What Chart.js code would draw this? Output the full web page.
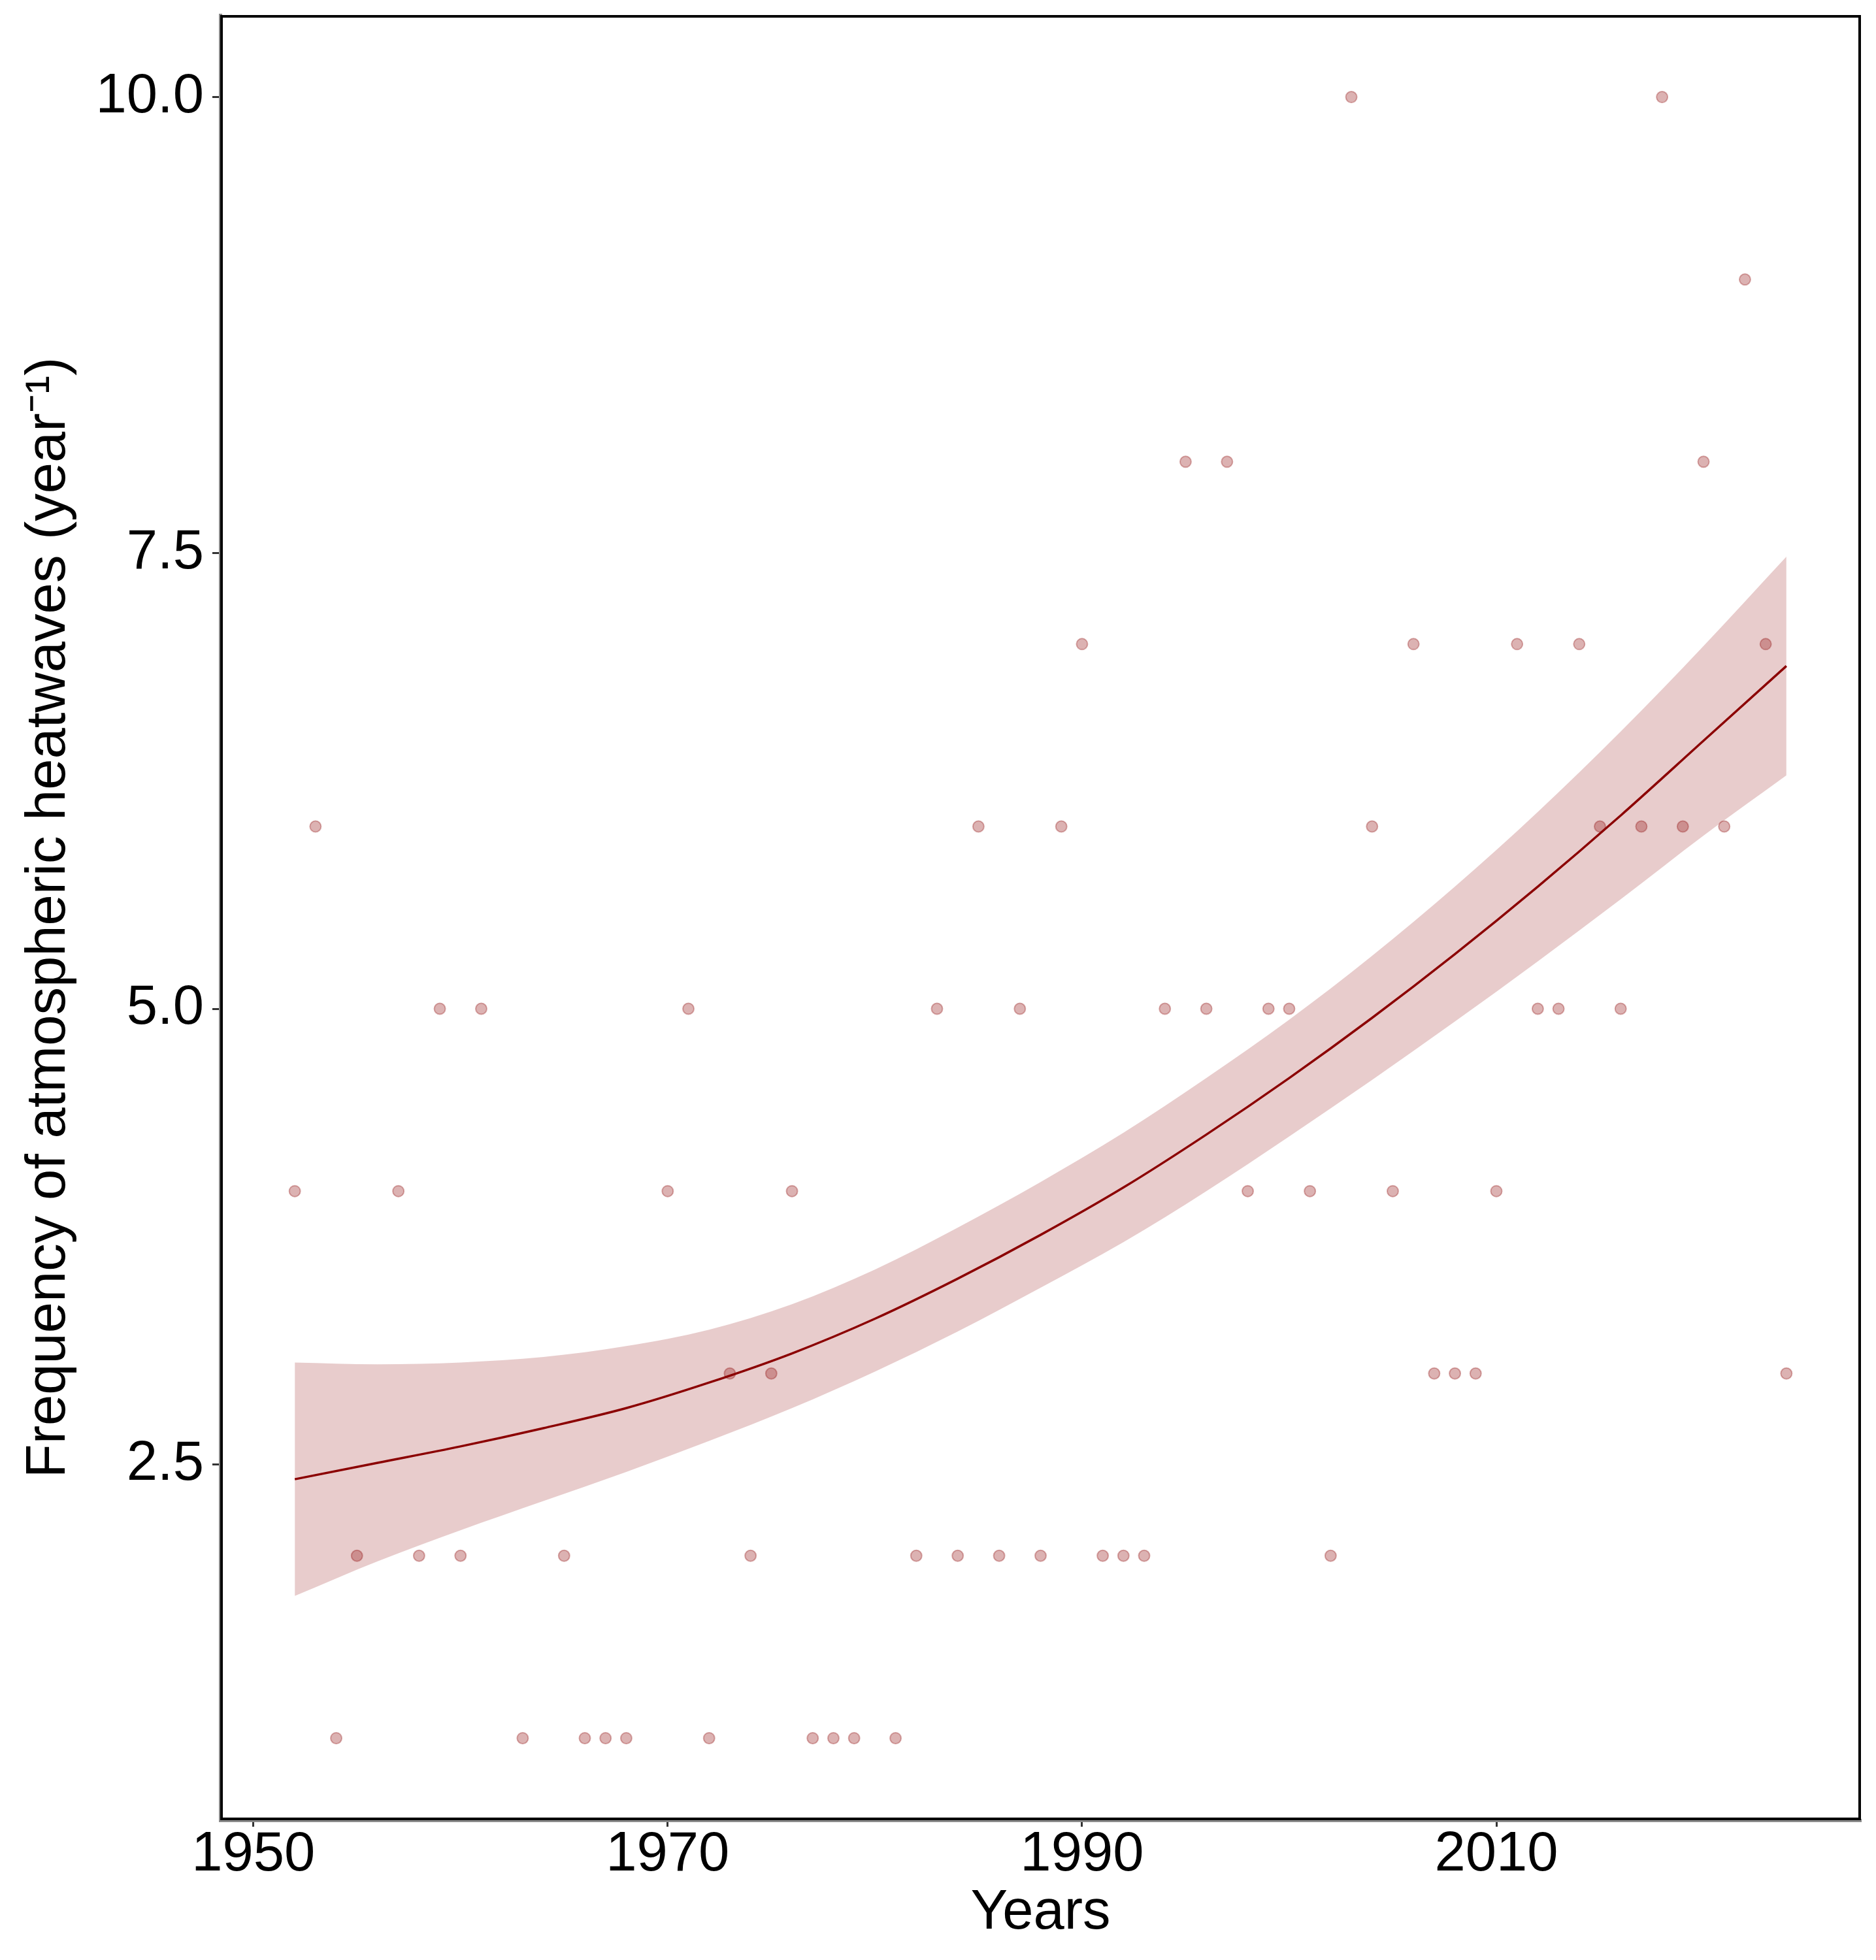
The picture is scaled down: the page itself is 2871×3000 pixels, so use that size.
<!DOCTYPE html>
<html>
<head>
<meta charset="utf-8">
<script src="https://cdn.jsdelivr.net/npm/chart.js@4.4.1/dist/chart.umd.min.js"></script>
<style>
    html, body { margin: 0; padding: 0; background: #fff; }
    canvas { display: block; }
</style>
</head>
<body>
<canvas id="heatwave-chart" width="2871" height="3000"></canvas>
<script>
// observed counts per year
let years = [1952, 1953, 1954, 1955, 1957, 1958, 1959, 1960, 1961, 1963, 1965, 1966, 1967, 1968,
             1970, 1971, 1972, 1973, 1974, 1975, 1976, 1977, 1978, 1979, 1981, 1982, 1983, 1984,
             1985, 1986, 1987, 1988, 1989, 1990, 1991, 1992, 1993, 1994, 1995, 1996, 1997, 1998,
             1999, 2000, 2001, 2002, 2003, 2004, 2005, 2006, 2007, 2008, 2009, 2010, 2011, 2012,
             2013, 2014, 2015, 2016, 2017, 2018, 2019, 2020, 2021, 2022, 2023, 2024];
let heatwaves = [4, 6, 1, 2, 4, 2, 5, 2, 5, 1, 2, 1, 1, 1,
                 4, 5, 1, 3, 2, 3, 4, 1, 1, 1, 1, 2, 5, 2,
                 6, 2, 5, 2, 6, 7, 2, 2, 2, 5, 8, 5, 8, 4,
                 5, 5, 4, 2, 10, 6, 4, 7, 3, 3, 3, 4, 7, 5,
                 5, 7, 6, 5, 6, 10, 6, 8, 6, 9, 7, 3];

// smoothed trend and its confidence band
let fitYears = [1952, 1956, 1960, 1964, 1968, 1972, 1976, 1980, 1984, 1988,
                1992, 1996, 2000, 2004, 2008, 2012, 2016, 2020, 2024];
let fitValues = [2.42, 2.51, 2.60, 2.70, 2.81, 2.95, 3.11, 3.30, 3.52, 3.76,
                 4.02, 4.31, 4.62, 4.95, 5.30, 5.67, 6.06, 6.47, 6.88];
let fitUpper = [3.06, 3.05, 3.06, 3.09, 3.15, 3.24, 3.38, 3.57, 3.80, 4.05,
                4.32, 4.62, 4.94, 5.29, 5.67, 6.08, 6.52, 6.99, 7.48];
let fitLower = [1.78, 1.97, 2.14, 2.30, 2.46, 2.63, 2.81, 3.01, 3.23, 3.47,
                3.72, 4.00, 4.30, 4.61, 4.93, 5.26, 5.60, 5.95, 6.28];

let xTicks = [1950, 1970, 1990, 2010];
let yTicks = [2.5, 5.0, 7.5, 10.0];

let fontFamily = "'Liberation Sans', Arial, Helvetica, sans-serif";

let colors = {
    line: "#8b0000",
    band: "rgba(139, 0, 0, 0.2)",
    points: "rgba(139, 0, 0, 0.3)",
    axis: "#8a8a8a",
    tick: "#333333"
}

let pairs = (xs, ys) => xs.map((x, i) => ({x: x, y: ys[i]}));

// black panel border like theme_bw
let panelFrame = {
    id: 'panelFrame',
    afterDraw(chart) {
        let ctx = chart.ctx;
        let a = chart.chartArea;
        ctx.save();
        ctx.strokeStyle = '#000';
        ctx.lineWidth = 4;
        ctx.strokeRect(a.left + 2, a.top + 2, a.right - a.left - 4, a.bottom - a.top - 4);
        ctx.restore();
    }
}

let data = {
    datasets: [
        {
            type: 'line',
            label: 'Trend',
            data: pairs(fitYears, fitValues),
            borderColor: colors.line,
            borderWidth: 3.5,
            pointRadius: 0,
            fill: false,
            cubicInterpolationMode: 'monotone',
            order: 0
        },
        {
            type: 'line',
            label: 'Upper',
            data: pairs(fitYears, fitUpper),
            borderColor: 'rgba(0,0,0,0)',
            borderWidth: 0,
            pointRadius: 0,
            backgroundColor: colors.band,
            fill: '+1',
            cubicInterpolationMode: 'monotone',
            order: 1
        },
        {
            type: 'line',
            label: 'Lower',
            data: pairs(fitYears, fitLower),
            borderColor: 'rgba(0,0,0,0)',
            borderWidth: 0,
            pointRadius: 0,
            fill: false,
            cubicInterpolationMode: 'monotone',
            order: 1
        },
        {
            type: 'scatter',
            label: 'Heatwaves',
            data: pairs(years, heatwaves),
            backgroundColor: colors.points,
            borderColor: colors.points,
            borderWidth: 2,
            pointRadius: 8.5,
            order: 2
        }
    ]
}

let options = {
    responsive: false,
    devicePixelRatio: 1,
    animation: false,
    layout: {
        padding: {top: 23, right: 23, left: 0, bottom: 0}
    },
    plugins: {
        legend: {display: false},
        tooltip: {enabled: false}
    },
    scales: {
        x: {
            type: 'linear',
            min: 1948.4,
            max: 2027.6,
            afterBuildTicks: scale => { scale.ticks = xTicks.map(v => ({value: v})); },
            afterFit: scale => {
                scale.height = 214;
                scale.paddingLeft = 0;
                scale.paddingRight = 0;
            },
            grid: {
                drawOnChartArea: false,
                drawTicks: true,
                tickLength: 10,
                tickColor: colors.tick,
                tickWidth: 3
            },
            border: {display: true, color: colors.axis, width: 5},
            ticks: {
                color: '#000',
                maxRotation: 0,
                autoSkip: false,
                padding: 1,
                font: {family: fontFamily, size: 85, lineHeight: 1},
                callback: value => String(value)
            },
            title: {
                display: true,
                text: 'Years',
                color: '#000',
                font: {family: fontFamily, size: 85},
                padding: {top: 0, bottom: 20}
            }
        },
        y: {
            type: 'linear',
            min: 0.55,
            max: 10.45,
            afterBuildTicks: scale => { scale.ticks = yTicks.map(v => ({value: v})); },
            afterFit: scale => {
                scale.width = 337;
                // labels never reach the panel edges, so no extra room is needed
                scale.paddingTop = 0;
                scale.paddingBottom = 0;
            },
            grid: {
                drawOnChartArea: false,
                drawTicks: true,
                tickLength: 12,
                tickColor: colors.tick,
                tickWidth: 3
            },
            border: {display: true, color: colors.axis, width: 5},
            ticks: {
                color: '#000',
                padding: 13,
                font: {family: fontFamily, size: 85},
                callback: value => value.toFixed(1)
            },
            title: {
                display: true,
                text: 'Frequency of atmospheric heatwaves (year\u207B\u00B9)',
                color: '#000',
                font: {family: fontFamily, size: 85},
                padding: {top: 25, bottom: 0}
            }
        }
    }
}

let config = {
    type: 'scatter',
    data: data,
    options: options,
    plugins: [panelFrame]
}

let ctx = document.getElementById('heatwave-chart').getContext('2d');
window.heatwaveChart = new Chart(ctx, config);
</script>
</body>
</html>
